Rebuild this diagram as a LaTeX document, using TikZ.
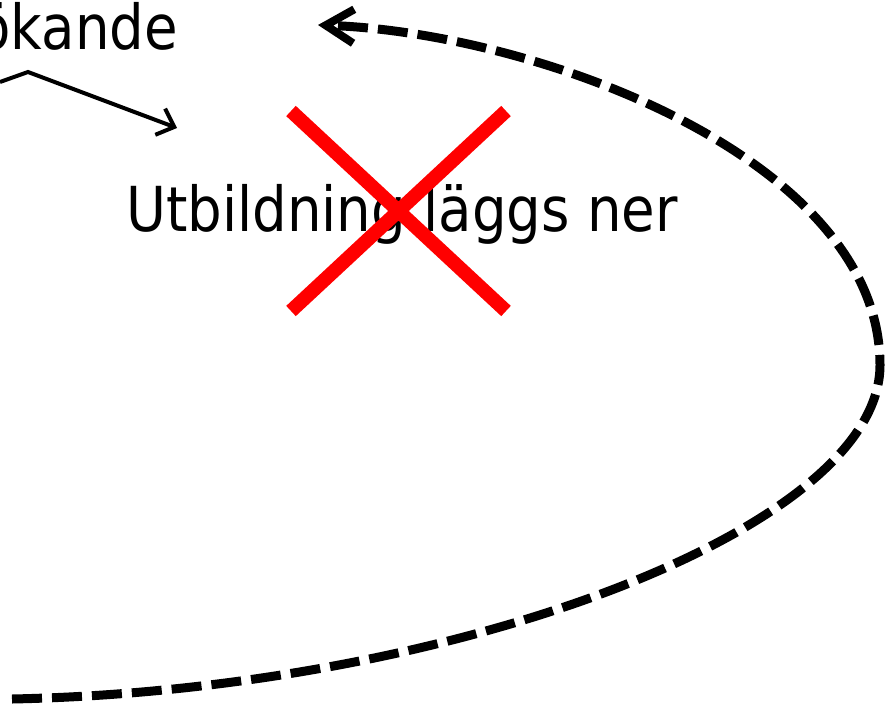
\documentclass[tikz,border=0pt]{standalone}
\usepackage{fontspec}
\setmainfont{DejaVu Sans}[FakeStretch=0.88]
\usetikzlibrary{arrows.meta}

\begin{document}
\begin{tikzpicture}[x=1pt,y=-1pt,
  big/.style={inner sep=0pt,font=\fontsize{62}{70}\selectfont}]
\useasboundingbox (0,0) rectangle (893,706);
  \node[big,anchor=base east] (sokande) at (178,50) {ökande};
  \node[big,anchor=base west] (utb) at (126,231) {Utbildning läggs ner};
  % pointer to the text
  \coordinate (p0) at (0,82);
  \coordinate (p1) at (28,72);
  \coordinate (p2) at (177,128);
  \draw[line width=4pt,-{Straight Barb[length=15pt,width=28pt]}] (p0) -- (p1) -- (p2);
  % cross
  \draw[red,line width=14pt] (291,111) -- (506,311) (506,111) -- (291,311);
  % loop back
  \coordinate (start) at (12,699);
  \coordinate (right) at (880,365);
  \coordinate (back) at (318,25);
  \draw[line width=9pt,dash pattern=on 30pt off 10pt,
        -{Straight Barb[length=28pt,width=34pt,line width=8pt]}]
    (start) .. controls (450,690) and (880,530) .. (right)
            .. controls (880,160) and (540,33) .. (back);
\end{tikzpicture}
\end{document}
